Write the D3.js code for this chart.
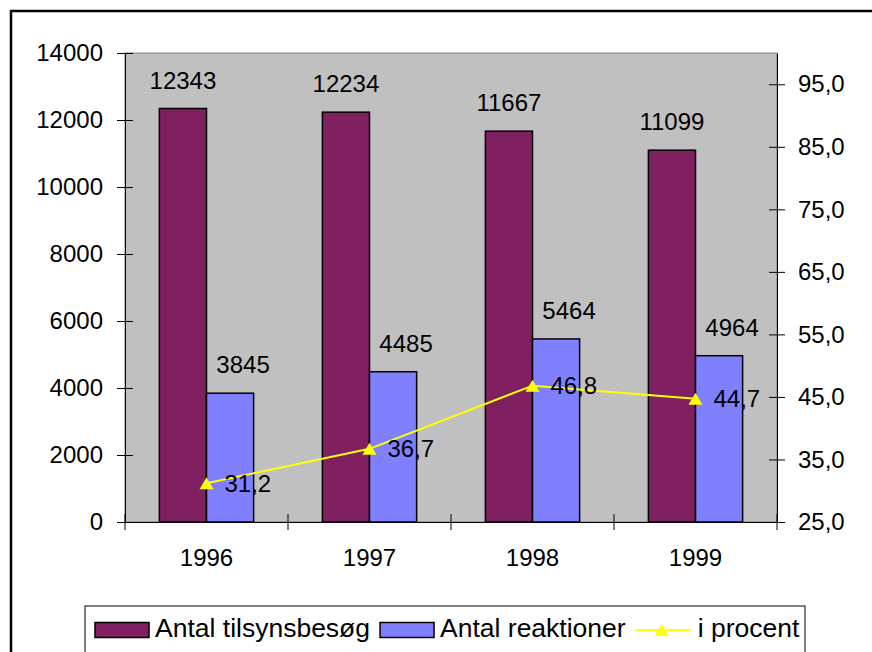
<!DOCTYPE html>
<html>
<head>
<meta charset="utf-8">
<script src="https://cdn.jsdelivr.net/npm/d3@7"></script>
<style>
  body { margin: 0; background: #fff; }
  svg { display: block; }
</style>
</head>
<body>
<svg width="872" height="652"></svg>
<script>
// data
const years = ["1996", "1997", "1998", "1999"];
const visits = [12343, 12234, 11667, 11099];
const reactions = [3845, 4485, 5464, 4964];
const percent = [31.2, 36.7, 46.8, 44.7];
const leftTicks = [0, 2000, 4000, 6000, 8000, 10000, 12000, 14000];
const rightTicks = [25, 35, 45, 55, 65, 75, 85, 95];
const seriesNames = ["Antal tilsynsbesøg", "Antal reaktioner", "i procent"];

const font = "'Liberation Sans', Arial, sans-serif";
const maroon = "#802060", blue = "#8080ff", yellow = "#ffff00";
const comma = d => d3.format(".1f")(d).replace(".", ",");

const svg = d3.select("svg");

// chart frame
svg.append("rect")
  .attr("x", 11).attr("y", 11)
  .attr("width", 900).attr("height", 700)
  .attr("fill", "#fff").attr("stroke", "#000").attr("stroke-width", 2.5);

// plot area
const plot = {left: 125, right: 777, top: 53, bottom: 522};

svg.append("rect")
  .attr("x", plot.left).attr("y", plot.top)
  .attr("width", plot.right - plot.left).attr("height", plot.bottom - plot.top)
  .attr("fill", "#c0c0c0").attr("stroke", "#808080");

// scales
const x = d3.scaleBand().domain(years).range([plot.left, plot.right]);
const inner = d3.scaleBand().domain(["visits", "reactions"])
  .range([0, x.bandwidth()]).paddingOuter(0.73);
const yLeft = d3.scaleLinear().domain([0, 14000]).range([plot.bottom, plot.top]);
const yRight = d3.scaleLinear().domain([25, 100]).range([plot.bottom, plot.top]);

// bars
const bars = [
  {key: "visits", values: visits, color: maroon, dx: 0},
  {key: "reactions", values: reactions, color: blue, dx: 13}
];

bars.forEach(s => {
  svg.append("g").selectAll("rect")
    .data(s.values)
    .join("rect")
    .attr("x", (d, i) => x(years[i]) + inner(s.key))
    .attr("y", d => yLeft(d))
    .attr("width", inner.bandwidth())
    .attr("height", d => plot.bottom - yLeft(d))
    .attr("fill", s.color)
    .attr("stroke", "#000")
    .attr("stroke-width", 1.5);

  svg.append("g").selectAll("text")
    .data(s.values)
    .join("text")
    .attr("x", (d, i) => x(years[i]) + inner(s.key) + inner.bandwidth() / 2 + s.dx)
    .attr("y", d => yLeft(d) - 20)
    .attr("text-anchor", "middle")
    .attr("font-family", font).attr("font-size", 24)
    .text(d => d);
});

// axes
const axisLeft = svg.append("g")
  .attr("transform", `translate(${plot.left},0)`)
  .call(d3.axisLeft(yLeft).tickValues(leftTicks).tickSize(8).tickSizeOuter(0).tickPadding(14)
    .tickFormat(d3.format("d")));
axisLeft.selectAll(".tick line").attr("x1", 8);

const axisRight = svg.append("g")
  .attr("transform", `translate(${plot.right},0)`)
  .call(d3.axisRight(yRight).tickValues(rightTicks).tickSize(8).tickSizeOuter(0).tickPadding(13)
    .tickFormat(comma));
axisRight.selectAll(".tick line").attr("x1", -8);

const axisBottom = svg.append("g")
  .attr("transform", `translate(0,${plot.bottom})`)
  .call(d3.axisBottom(x).tickSize(0).tickPadding(27));

// category separators on the x axis
axisBottom.selectAll(".sep")
  .data(years.map(d => x(d)).concat([plot.right]))
  .join("line")
  .attr("x1", d => d).attr("x2", d => d)
  .attr("y1", -8).attr("y2", 8)
  .attr("stroke", "#000");

[axisLeft, axisRight, axisBottom].forEach(g => {
  g.attr("font-family", font).attr("font-size", 24);
  g.selectAll("text").attr("fill", "#000");
  g.select(".domain").attr("stroke", "#000");
});

// percent line
const line = d3.line()
  .x((d, i) => x(years[i]) + x.bandwidth() / 2)
  .y(d => yRight(d));

svg.append("path")
  .datum(percent)
  .attr("d", line)
  .attr("fill", "none")
  .attr("stroke", yellow)
  .attr("stroke-width", 2);

const triangle = "M0,-6L7,6L-7,6Z";

svg.append("g").selectAll("path")
  .data(percent)
  .join("path")
  .attr("d", triangle)
  .attr("transform", (d, i) => `translate(${x(years[i]) + x.bandwidth() / 2},${yRight(d)})`)
  .attr("fill", yellow);

svg.append("g").selectAll("text")
  .data(percent)
  .join("text")
  .attr("x", (d, i) => x(years[i]) + x.bandwidth() / 2 + 18)
  .attr("y", d => yRight(d))
  .attr("dy", "0.35em")
  .attr("font-family", font).attr("font-size", 24)
  .text(comma);

// legend
const legend = svg.append("g");
legend.append("rect")
  .attr("x", 85).attr("y", 606)
  .attr("width", 720).attr("height", 60)
  .attr("fill", "#fff").attr("stroke", "#000");

let lx = 95;
const ly = 630;
seriesNames.forEach((name, i) => {
  if (i < 2) {
    legend.append("rect")
      .attr("x", lx).attr("y", ly - 7.5)
      .attr("width", 54).attr("height", 15)
      .attr("fill", i === 0 ? maroon : blue)
      .attr("stroke", "#000").attr("stroke-width", 1.5);
    lx += 60;
  } else {
    legend.append("line")
      .attr("x1", lx).attr("x2", lx + 55)
      .attr("y1", ly).attr("y2", ly)
      .attr("stroke", yellow).attr("stroke-width", 2);
    legend.append("path")
      .attr("d", triangle)
      .attr("transform", `translate(${lx + 26},${ly})`)
      .attr("fill", yellow);
    lx += 62;
  }
  const t = legend.append("text")
    .attr("x", lx).attr("y", ly - 2.5)
    .attr("dy", "0.35em")
    .attr("font-family", font).attr("font-size", 26.5)
    .text(name);
  lx += t.node().getComputedTextLength() + 10;
});
</script>
</body>
</html>
